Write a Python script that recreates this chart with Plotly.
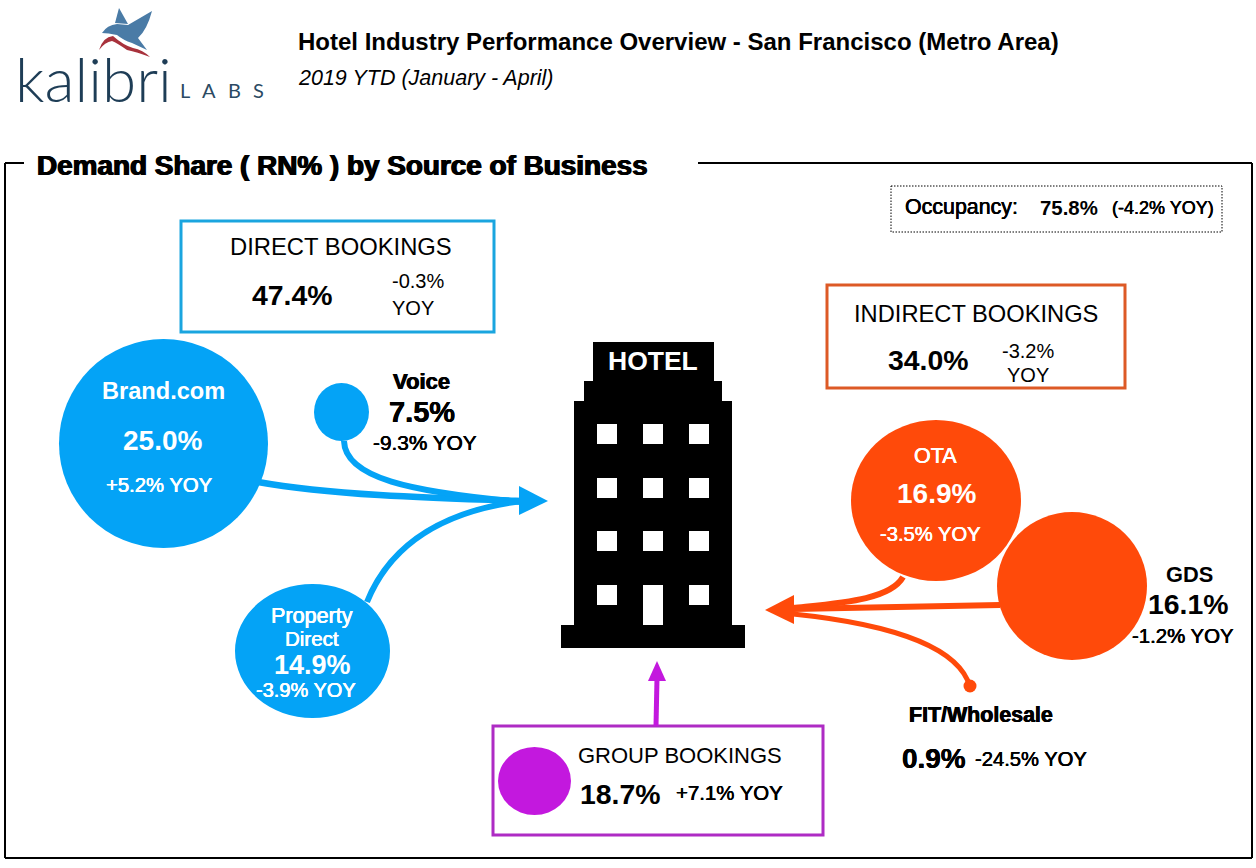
import plotly.graph_objects as go

SANS = "Liberation Sans"
BLUE = "#04A3F6"
ORANGE = "#FF4A0A"
PURPLE = "#C318DE"
BLACK = "#000000"

# Bubbles: name, centre and diameters
bubble_names = ["Brand.com", "Voice", "Property Direct", "OTA", "GDS", "FIT/Wholesale", "Group"]
bubble_cx = [163.5, 341.5, 312.5, 936, 1072, 970, 534.5]
bubble_cy = [443.5, 412, 651, 500.5, 586, 686, 781]
bubble_w = [209, 55, 155, 170, 150, 13, 73]
bubble_h = [209, 58, 134, 161, 148, 13, 68]
bubble_colors = [BLUE, BLUE, BLUE, ORANGE, ORANGE, ORANGE, PURPLE]

# Values
shares = {"Direct": "47.4%", "Indirect": "34.0%", "Group": "18.7%", "Brand": "25.0%", "Voice": "7.5%",
          "Property": "14.9%", "OTA": "16.9%", "GDS": "16.1%", "FIT": "0.9%", "Occ": "75.8%"}
yoy = {"Direct": "-0.3%", "Indirect": "-3.2%", "Group": "+7.1% YOY", "Brand": "+5.2% YOY",
       "Voice": "-9.3% YOY", "Property": "-3.9% YOY", "OTA": "-3.5% YOY", "GDS": "-1.2% YOY",
       "FIT": "-24.5% YOY", "Occ": "(-4.2% YOY)"}

shapes = []

def rect(x0, y0, x1, y1, fill=None, line=None, width=0, dash=None):
    s = dict(type="rect", xref="x", yref="y", x0=x0, y0=y0, x1=x1, y1=y1, layer="above")
    if fill:
        s["fillcolor"] = fill
    s["line"] = dict(color=line or "rgba(0,0,0,0)", width=width)
    if dash:
        s["line"]["dash"] = dash
    shapes.append(s)

def path(d, fill=None, line=None, width=0):
    s = dict(type="path", xref="x", yref="y", path=d, layer="above",
             line=dict(color=line or "rgba(0,0,0,0)", width=width))
    if fill:
        s["fillcolor"] = fill
    shapes.append(s)

def seg(x0, y0, x1, y1, width=2, color=BLACK):
    shapes.append(dict(type="line", xref="x", yref="y", x0=x0, y0=y0, x1=x1, y1=y1, layer="above",
                       line=dict(color=color, width=width)))

# Frame with a gap for the heading
seg(5, 163, 5, 858)
seg(5, 858, 1252, 858)
seg(1252, 858, 1252, 163)
seg(1252, 163, 698, 163)
seg(5, 163, 24, 163)

# Boxes
rect(181, 221, 494, 332, line="#1AA5DF", width=3)
rect(827, 285, 1125, 388, line="#DD5A26", width=3)
rect(493, 726, 823, 835, line="#AE2BC4", width=3)
rect(891, 186, 1222, 232, line=BLACK, width=1, dash="1.5px,1.5px")

# Arrows
path("M258,482 C330,495 430,498 522,501", line=BLUE, width=6.5)
path("M344,441 C345,478 410,492 522,502", line=BLUE, width=6)
path("M367,602 C392,540 450,510 522,501", line=BLUE, width=6)
path("M519,486 L548,501 L519,515 Z", fill=BLUE)
path("M903,577 C890,600 840,603 793,608", line=ORANGE, width=6)
path("M1000,605 L793,609", line=ORANGE, width=6)
path("M970,687 C960,650 900,625 793,614", line=ORANGE, width=5)
path("M765,610 L794,595 L794,624 Z", fill=ORANGE)
seg(656, 726, 657, 678, width=5, color=PURPLE)
path("M657,661 L648,681 L666,681 Z", fill=PURPLE)

# Bubbles
for cx, cy, w, h, c in zip(bubble_cx, bubble_cy, bubble_w, bubble_h, bubble_colors):
    shapes.append(dict(type="circle", xref="x", yref="y", x0=cx - w / 2, x1=cx + w / 2,
                       y0=cy - h / 2, y1=cy + h / 2, fillcolor=c, line=dict(width=0), layer="above"))

# Hotel building
rect(593, 342, 714, 381, fill=BLACK)
rect(584, 381, 722, 401, fill=BLACK)
rect(574, 401, 732, 625, fill=BLACK)
rect(561, 625, 745, 648, fill=BLACK)
win_x = [597, 643, 689]
win_y = [424, 478, 531, 585]
for wy in win_y:
    for wx in win_x:
        rect(wx, wy, wx + 20, wy + 20 if not (wx == 643 and wy == 585) else 625, fill="#FFFFFF")

# Logo bird
path("M119,8 L128,24 L115,23 Z", fill="#4A7BA6")
path("M102,33 Q107,25 117,24 L128,25 L152,11 Q147,30 138,38 L147,50 L132,43 Q123,40 117,35 Q108,33 102,33 Z", fill="#4A7BA6")
path("M99,50 Q103,37 113,36 Q123,45 133,48 Q143,50 150,57 Q137,52 127,50 Q117,43 112,41 Q105,42 99,50 Z", fill="#A8323C")

texts = []
def t(x, y, s, size, color=BLACK, bold=False, italic=False, anchor="center", family=SANS, heavy=0, weight=None):
    if bold:
        s = f"<b>{s}</b>"
    if italic:
        s = f"<i>{s}</i>"
    font = dict(size=size, color=color, family=family)
    if heavy:
        font["shadow"] = f"{heavy}px 0 0 {color}, -{heavy}px 0 0 {color}"
    if weight:
        font["weight"] = weight
    if anchor == "left":
        x -= 2
    texts.append(dict(x=x, y=y, xref="x", yref="y", text=s, showarrow=False, xanchor=anchor, yanchor="middle",
                      align="center", font=font))

# Logo text
t(15, 78, "kalibri", 62, color="#1E3D56", anchor="left", family="Lato", weight=300)
for lx, lc in zip([185, 209, 234, 258], "LABS"):
    t(lx, 90, lc, 20, color="#2B4A63", family="Lato")

# Headings
t(298, 41, "Hotel Industry Performance Overview - San Francisco (Metro Area)", 24, bold=True, anchor="left")
t(298, 78, "2019 YTD (January - April)", 21.5, italic=True, anchor="left")
t(37, 165, "Demand Share ( RN% ) by Source of Business", 27.9, bold=True, anchor="left", heavy=0.7)

t(905, 207, "Occupancy:", 21.4, anchor="left", heavy=0.3)
t(1040, 208, shares["Occ"], 20.4, bold=True, anchor="left")
t(1112, 208, yoy["Occ"], 18, anchor="left", heavy=0.3)

t(341, 246, "DIRECT BOOKINGS", 23.8)
t(292, 295, shares["Direct"], 28.4, bold=True)
t(392, 281, yoy["Direct"], 20, anchor="left")
t(392, 308, "YOY", 20, anchor="left")
t(976, 314, "INDIRECT BOOKINGS", 23.7)
t(928, 360, shares["Indirect"], 28.4, bold=True)
t(1002, 351, yoy["Indirect"], 20, anchor="left")
t(1007, 375, "YOY", 20, anchor="left")
t(680, 755, "GROUP BOOKINGS", 22)
t(620, 794, shares["Group"], 28.4, bold=True)
t(729, 793, yoy["Group"], 20.4, heavy=0.3)

t(163, 391, "Brand.com", 23.6, color="#FFFFFF", bold=True)
t(162, 440, shares["Brand"], 28, color="#FFFFFF", bold=True)
t(159, 485, yoy["Brand"], 20.3, color="#FFFFFF", heavy=0.3)
t(421, 381, "Voice", 22, bold=True, heavy=0.4)
t(422, 412, shares["Voice"], 29, bold=True, heavy=0.3)
t(425, 442, yoy["Voice"], 20.8, heavy=0.3)
t(312, 615, "Property", 21.6, color="#FFFFFF", heavy=0.3)
t(312, 638, "Direct", 20.5, color="#FFFFFF", heavy=0.3)
t(312, 665, shares["Property"], 27, color="#FFFFFF", bold=True)
t(306, 690, yoy["Property"], 20, color="#FFFFFF", heavy=0.3)
t(935, 456, "OTA", 21.5, color="#FFFFFF", heavy=0.3)
t(936, 493, shares["OTA"], 28, color="#FFFFFF", bold=True)
t(930, 534, yoy["OTA"], 20.2, color="#FFFFFF", heavy=0.3)
t(1189, 574, "GDS", 21.8, bold=True)
t(1188, 604, shares["GDS"], 28.4, bold=True)
t(1183, 636, yoy["GDS"], 20.4, heavy=0.3)
t(981, 715, "FIT/Wholesale", 21.4, bold=True, heavy=0.4)
t(934, 758, shares["FIT"], 27.9, bold=True, heavy=0.3)
t(1031, 759, yoy["FIT"], 20.2, heavy=0.3)
t(653, 361, "HOTEL", 26.5, color="#FFFFFF", bold=True)

fig = go.Figure()
fig.update_layout(
    width=1256, height=868, margin=dict(l=0, r=0, t=0, b=0),
    paper_bgcolor="#FFFFFF", plot_bgcolor="#FFFFFF", showlegend=False,
    xaxis=dict(range=[0, 1256], visible=False, fixedrange=True),
    yaxis=dict(range=[868, 0], visible=False, fixedrange=True),
    shapes=shapes, annotations=texts,
)
fig.write_html("out.html", config={"displayModeBar": False},
               post_script="document.body.style.margin='0';document.body.style.overflow='hidden';")
